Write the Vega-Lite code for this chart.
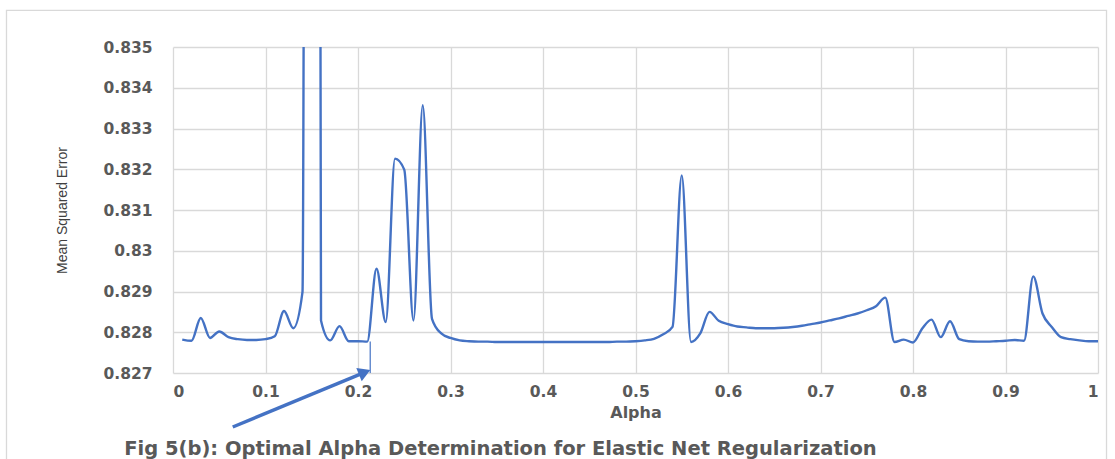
{
  "$schema": "https://vega.github.io/schema/vega-lite/v6.json",
  "width": 925,
  "height": 326,
  "autosize": {"type": "none"},
  "padding": {"left": 173, "top": 47, "right": 17, "bottom": 86},
  "background": "white",
  "config": {
    "view": {"stroke": null},
    "axis": {
      "domain": false,
      "ticks": false,
      "gridColor": "#d9d9d9",
      "gridWidth": 1.3,
      "labelFont": "DejaVu Sans",
      "labelFontWeight": "bold",
      "labelFontSize": 15.5,
      "labelColor": "#595959",
      "titleColor": "#404040"
    }
  },
  "title": {
    "text": "Fig 5(b): Optimal Alpha Determination for Elastic Net Regularization",
    "orient": "bottom",
    "anchor": "middle",
    "dx": -135,
    "offset": -36,
    "font": "DejaVu Sans",
    "fontSize": 19.5,
    "fontWeight": "bold",
    "color": "#595959"
  },
  "datasets": {
    "mse": [
      {"alpha": 0.01, "mse": 0.82782}, {"alpha": 0.02, "mse": 0.82779}, {"alpha": 0.03, "mse": 0.82835},
      {"alpha": 0.04, "mse": 0.82786}, {"alpha": 0.05, "mse": 0.82802}, {"alpha": 0.06, "mse": 0.82788},
      {"alpha": 0.07, "mse": 0.82783}, {"alpha": 0.08, "mse": 0.82781}, {"alpha": 0.09, "mse": 0.82781},
      {"alpha": 0.10, "mse": 0.82783}, {"alpha": 0.11, "mse": 0.8279}, {"alpha": 0.12, "mse": 0.82852},
      {"alpha": 0.13, "mse": 0.8281}, {"alpha": 0.14, "mse": 0.82899}, {"alpha": 0.15, "mse": 0.95},
      {"alpha": 0.16, "mse": 0.82829}, {"alpha": 0.17, "mse": 0.8278}, {"alpha": 0.18, "mse": 0.82815},
      {"alpha": 0.19, "mse": 0.82778}, {"alpha": 0.20, "mse": 0.82778}, {"alpha": 0.21, "mse": 0.82777},
      {"alpha": 0.22, "mse": 0.82956}, {"alpha": 0.23, "mse": 0.82825}, {"alpha": 0.24, "mse": 0.83226},
      {"alpha": 0.25, "mse": 0.83199}, {"alpha": 0.26, "mse": 0.82829}, {"alpha": 0.27, "mse": 0.83357},
      {"alpha": 0.28, "mse": 0.82833}, {"alpha": 0.29, "mse": 0.82797}, {"alpha": 0.30, "mse": 0.82786},
      {"alpha": 0.31, "mse": 0.8278}, {"alpha": 0.32, "mse": 0.82778}, {"alpha": 0.33, "mse": 0.82777},
      {"alpha": 0.34, "mse": 0.82777}, {"alpha": 0.35, "mse": 0.82776}, {"alpha": 0.36, "mse": 0.82776},
      {"alpha": 0.37, "mse": 0.82776}, {"alpha": 0.38, "mse": 0.82776}, {"alpha": 0.39, "mse": 0.82776},
      {"alpha": 0.40, "mse": 0.82776}, {"alpha": 0.41, "mse": 0.82776}, {"alpha": 0.42, "mse": 0.82776},
      {"alpha": 0.43, "mse": 0.82776}, {"alpha": 0.44, "mse": 0.82776}, {"alpha": 0.45, "mse": 0.82776},
      {"alpha": 0.46, "mse": 0.82776}, {"alpha": 0.47, "mse": 0.82776}, {"alpha": 0.48, "mse": 0.82777},
      {"alpha": 0.49, "mse": 0.82777}, {"alpha": 0.50, "mse": 0.82778}, {"alpha": 0.51, "mse": 0.8278},
      {"alpha": 0.52, "mse": 0.82784}, {"alpha": 0.53, "mse": 0.82795}, {"alpha": 0.54, "mse": 0.82813},
      {"alpha": 0.55, "mse": 0.83185}, {"alpha": 0.56, "mse": 0.82776}, {"alpha": 0.57, "mse": 0.82797},
      {"alpha": 0.58, "mse": 0.8285}, {"alpha": 0.59, "mse": 0.82828}, {"alpha": 0.60, "mse": 0.8282},
      {"alpha": 0.61, "mse": 0.82814}, {"alpha": 0.62, "mse": 0.82812}, {"alpha": 0.63, "mse": 0.8281},
      {"alpha": 0.64, "mse": 0.8281}, {"alpha": 0.65, "mse": 0.8281}, {"alpha": 0.66, "mse": 0.82811},
      {"alpha": 0.67, "mse": 0.82813}, {"alpha": 0.68, "mse": 0.82816}, {"alpha": 0.69, "mse": 0.8282},
      {"alpha": 0.70, "mse": 0.82824}, {"alpha": 0.71, "mse": 0.82829}, {"alpha": 0.72, "mse": 0.82834},
      {"alpha": 0.73, "mse": 0.8284}, {"alpha": 0.74, "mse": 0.82846}, {"alpha": 0.75, "mse": 0.82854},
      {"alpha": 0.76, "mse": 0.82864}, {"alpha": 0.77, "mse": 0.82885}, {"alpha": 0.78, "mse": 0.82776},
      {"alpha": 0.79, "mse": 0.82782}, {"alpha": 0.80, "mse": 0.82775}, {"alpha": 0.81, "mse": 0.82809},
      {"alpha": 0.82, "mse": 0.82831}, {"alpha": 0.83, "mse": 0.82788}, {"alpha": 0.84, "mse": 0.82827},
      {"alpha": 0.85, "mse": 0.82783}, {"alpha": 0.86, "mse": 0.82778}, {"alpha": 0.87, "mse": 0.82777},
      {"alpha": 0.88, "mse": 0.82777}, {"alpha": 0.89, "mse": 0.82778}, {"alpha": 0.90, "mse": 0.82779},
      {"alpha": 0.91, "mse": 0.82781}, {"alpha": 0.92, "mse": 0.82779}, {"alpha": 0.93, "mse": 0.82937},
      {"alpha": 0.94, "mse": 0.82846}, {"alpha": 0.95, "mse": 0.82813}, {"alpha": 0.96, "mse": 0.82788},
      {"alpha": 0.97, "mse": 0.82783}, {"alpha": 0.98, "mse": 0.8278}, {"alpha": 0.99, "mse": 0.82778},
      {"alpha": 1.00, "mse": 0.82778}
    ],
    "arrow": [
      {"x": 0.0646, "y": 0.825675, "x2": 0.2072, "y2": 0.827017}
    ],
    "head": [
      {"x": 0.2072, "y": 0.827017}
    ],
    "marker": [
      {"x": 0.2132, "y": 0.82777, "x2": 0.2132, "y2": 0.827}
    ],
    "frame": [
      {"x": -0.18, "x2": 1.0092, "y": 0.8359, "y2": 0.8245}
    ]
  },
  "layer": [
    {
      "data": {"name": "frame"},
      "mark": {"type": "rect", "fill": null, "stroke": "#d9d9d9", "strokeWidth": 1.3, "clip": false},
      "encoding": {
        "x": {"field": "x", "type": "quantitative"},
        "y": {"field": "y", "type": "quantitative"},
        "x2": {"field": "x2"},
        "y2": {"field": "y2"}
      }
    },
    {
      "data": {"name": "mse"},
      "mark": {"type": "line", "interpolate": "monotone", "clip": true, "color": "#4472C4", "strokeWidth": 2.4},
      "encoding": {
        "x": {
          "field": "alpha", "type": "quantitative",
          "scale": {"domain": [0, 1], "nice": false, "zero": false},
          "axis": {
            "values": [0, 0.1, 0.2, 0.3, 0.4, 0.5, 0.6, 0.7, 0.8, 0.9, 1],
            "format": "~g",
            "labelPadding": 11,
            "title": "Alpha",
            "titleFont": "DejaVu Sans",
            "titleFontWeight": "bold",
            "titleFontSize": 16,
            "titleColor": "#595959",
            "titlePadding": 5
          }
        },
        "y": {
          "field": "mse", "type": "quantitative",
          "scale": {"domain": [0.827, 0.835], "nice": false, "zero": false},
          "axis": {
            "values": [0.827, 0.828, 0.829, 0.83, 0.831, 0.832, 0.833, 0.834, 0.835],
            "format": "~g",
            "labelPadding": 21,
            "title": "Mean Squared Error",
            "titleFont": "Liberation Sans",
            "titleFontWeight": "normal",
            "titleFontSize": 14,
            "titleColor": "#404040",
            "titlePadding": 33
          }
        }
      }
    },
    {
      "data": {"name": "marker"},
      "mark": {"type": "rule", "color": "#4472C4", "strokeWidth": 1.2},
      "encoding": {
        "x": {"field": "x", "type": "quantitative"},
        "y": {"field": "y", "type": "quantitative"},
        "x2": {"field": "x2"},
        "y2": {"field": "y2"}
      }
    },
    {
      "data": {"name": "arrow"},
      "mark": {"type": "rule", "color": "#4472C4", "strokeWidth": 3.5},
      "encoding": {
        "x": {"field": "x", "type": "quantitative"},
        "y": {"field": "y", "type": "quantitative"},
        "x2": {"field": "x2"},
        "y2": {"field": "y2"}
      }
    },
    {
      "data": {"name": "head"},
      "mark": {"type": "point", "shape": "triangle-right", "filled": true, "size": 200, "angle": 337.5, "color": "#4472C4", "opacity": 1},
      "encoding": {
        "x": {"field": "x", "type": "quantitative"},
        "y": {"field": "y", "type": "quantitative"}
      }
    }
  ]
}
